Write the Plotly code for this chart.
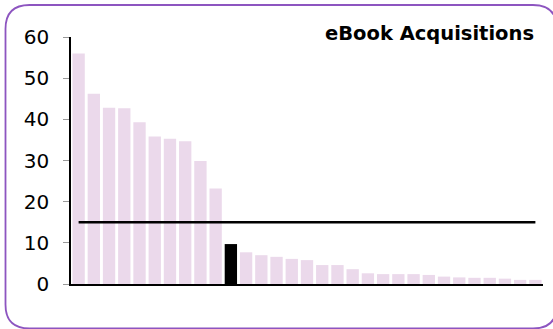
import plotly.graph_objects as go

# bar values, sorted descending; one bar is highlighted
values = [56.0, 46.2, 42.8, 42.7, 39.3, 35.8, 35.3, 34.7, 29.9, 23.2,
          9.7, 7.7, 7.0, 6.6, 6.1, 5.8, 4.6, 4.6, 3.6, 2.6,
          2.4, 2.4, 2.4, 2.2, 1.8, 1.6, 1.5, 1.5, 1.3, 1.0, 1.0]
highlight_index = 10
target = 15
categories = [f"c{i + 1}" for i in range(len(values))]
title = "eBook Acquisitions"

bar_colors = ["#000000" if i == highlight_index else "#ebd9eb" for i in range(len(values))]

W, H = 553, 329
L, R, T, B = 71, 10, 37, 45
pw, ph = W - L - R, H - T - B


def px(x):  # pixel -> paper x
    return (x - L) / pw


def py(y):  # pixel -> paper y
    return (H - B - y) / ph


fig = go.Figure()
fig.add_bar(x=categories, y=values, marker_color=bar_colors, marker_line_width=0)
fig.add_scatter(x=categories, y=[target] * len(categories), mode="lines",
                line=dict(color="#000000", width=2.5))

# rounded frame around the chart; its right side lies past the page edge, so leave it open
r = 24
x0, y0, x1, y1 = 5.5, 5, 557, 328.5
pts = [(x1, y1 - r), (x1, y1), (x1 - r, y1), (x0 + r, y1), (x0, y1), (x0, y1 - r),
       (x0, y0 + r), (x0, y0), (x0 + r, y0), (x1 - r, y0), (x1, y0), (x1, y0 + r)]
p = [f"{px(a):.5f},{py(b):.5f}" for a, b in pts]
path = (f"M {p[0]} Q {p[1]} {p[2]} L {p[3]} Q {p[4]} {p[5]} L {p[6]} "
        f"Q {p[7]} {p[8]} L {p[9]} Q {p[10]} {p[11]}")
fig.add_shape(type="path", path=path, xref="paper", yref="paper",
              line=dict(color="#8d55c0", width=1.8))

fig.update_layout(
    width=W, height=H,
    margin=dict(l=L, r=R, t=T, b=B),
    paper_bgcolor="white", plot_bgcolor="white",
    showlegend=False, bargap=0.19,
    font=dict(family="DejaVu Sans", color="#000000"),
    annotations=[dict(text=f"<b>{title}</b>", x=px(536), y=py(33), xref="paper", yref="paper",
                      xanchor="right", yanchor="middle", showarrow=False,
                      font=dict(size=19.5, family="DejaVu Sans"))],
)
fig.update_xaxes(showticklabels=False, showline=True, linecolor="#000000", linewidth=1.5,
                 ticks="", showgrid=False)
fig.update_yaxes(range=[0, 60], dtick=10, showline=True, linecolor="#000000", linewidth=1.5,
                 ticks="outside", ticklen=6, tickcolor="#999999", showgrid=False,
                 zeroline=False, tickfont=dict(size=20), ticklabelstandoff=10)

# page body has an 8px default margin; drop it so the figure sits at the window corner
fig.write_html("out.html", config={"displayModeBar": False},
               post_script="document.body.style.margin='0px';")
